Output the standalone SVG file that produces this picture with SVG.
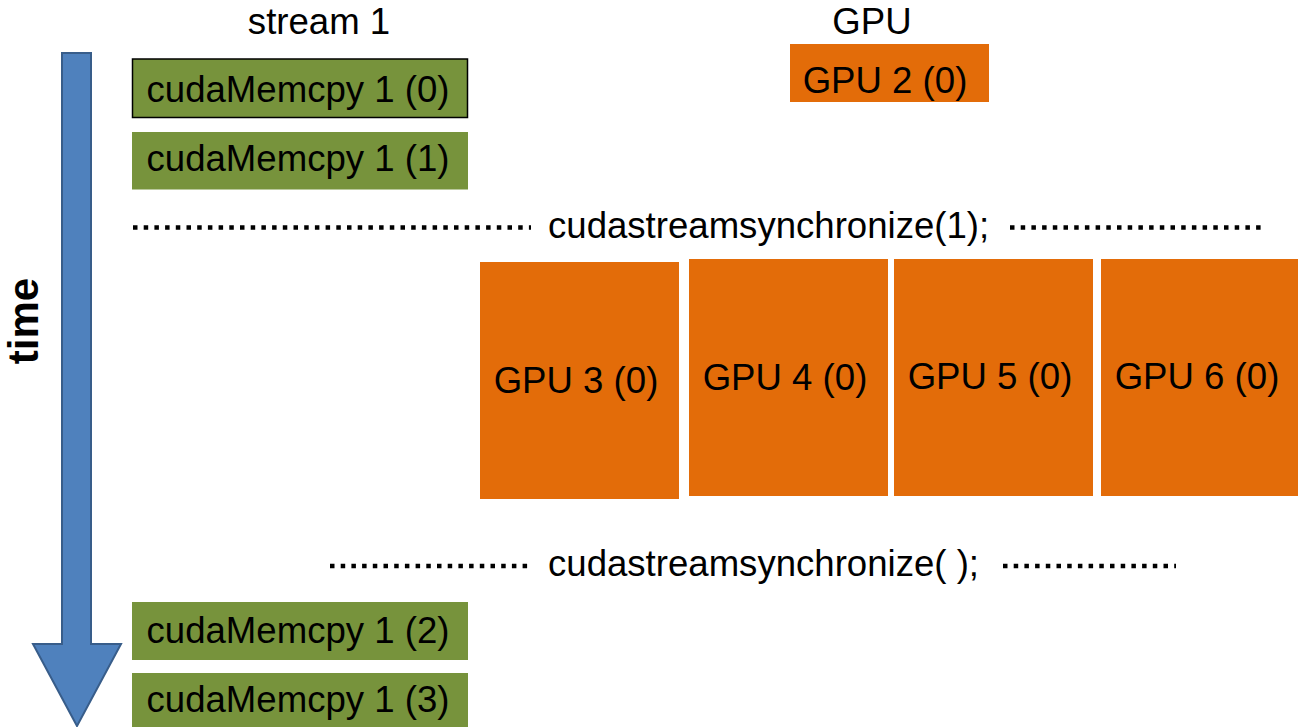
<svg xmlns="http://www.w3.org/2000/svg" width="1298" height="727" viewBox="0 0 1298 727">
<style>
text{font-family:"Liberation Sans",Arial,sans-serif;font-size:36.6px;fill:#000}
.mem{fill:#77933C}
.gpu{fill:#E36C09}
.dots{stroke:#000;stroke-width:4.5;stroke-dasharray:4.5 6.2;fill:none}
.c{text-anchor:middle}
</style>
<rect width="1298" height="727" fill="#fff"/>
<g id="time-axis">
<polygon points="62,53 91,53 91,644 121,644 77,726 33,644 62,644" fill="#4F81BD" stroke="#385D8A" stroke-width="2"/>
<text transform="translate(38,321) rotate(-90)" class="c" font-weight="bold" style="font-size:42px">time</text>
</g>
<g id="headers">
<text x="319" y="34" class="c">stream 1</text>
<text x="872" y="34" class="c">GPU</text>
</g>
<g id="memcpy0"><rect class="mem" x="132.5" y="59" width="335" height="58.5" stroke="#000" stroke-width="1.5"/><text x="298" y="102" class="c">cudaMemcpy 1 (0)</text></g>
<g id="memcpy1"><rect class="mem" x="132" y="132" width="336" height="57.5"/><text x="298" y="171" class="c">cudaMemcpy 1 (1)</text></g>
<g id="memcpy2"><rect class="mem" x="132" y="602" width="336" height="58"/><text x="298" y="643" class="c">cudaMemcpy 1 (2)</text></g>
<g id="memcpy3"><rect class="mem" x="132" y="673" width="336" height="54"/><text x="298" y="712" class="c">cudaMemcpy 1 (3)</text></g>
<g id="gpu2"><rect class="gpu" x="790" y="44" width="199" height="58"/><text x="885" y="93" class="c">GPU 2 (0)</text></g>
<g id="gpu3"><rect class="gpu" x="480" y="262" width="199" height="237"/><text x="576" y="393" class="c">GPU 3 (0)</text></g>
<g id="gpu4"><rect class="gpu" x="689" y="259" width="199" height="237"/><text x="785" y="389.5" class="c">GPU 4 (0)</text></g>
<g id="gpu5"><rect class="gpu" x="894" y="259" width="199" height="237"/><text x="990" y="388.5" class="c">GPU 5 (0)</text></g>
<g id="gpu6"><rect class="gpu" x="1101" y="259" width="197" height="237"/><text x="1197" y="388.5" class="c">GPU 6 (0)</text></g>
<g id="connectors">
<line class="dots" x1="133" y1="227.5" x2="531" y2="227.5"/>
<line class="dots" x1="1010" y1="227.5" x2="1264" y2="227.5"/>
<line class="dots" x1="330" y1="566" x2="531" y2="566"/>
<line class="dots" x1="1003" y1="566" x2="1176" y2="566"/>
</g>
<g id="sync-labels">
<text x="548" y="238">cudastreamsynchronize(1);</text>
<text x="548" y="576">cudastreamsynchronize( );</text>
</g>
</svg>
